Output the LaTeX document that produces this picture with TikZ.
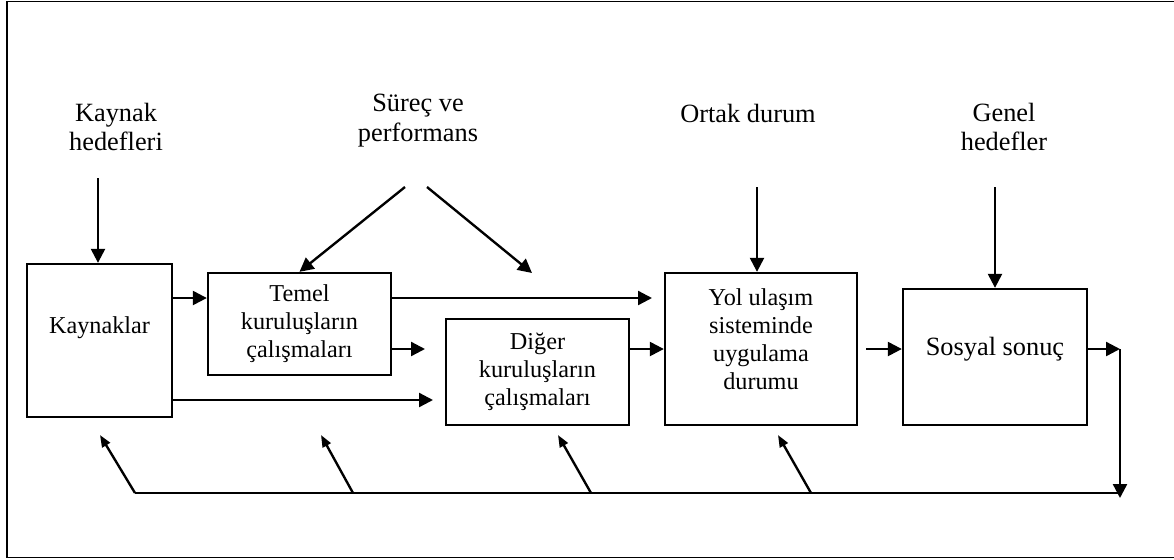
\documentclass[tikz,border=0pt]{standalone}
\usepackage{fontspec}
\setmainfont{Liberation Serif}
\usetikzlibrary{arrows.meta, positioning}

\begin{document}
\begin{tikzpicture}[x=0.02cm, y=-0.02cm, line width=1.35pt,
  box/.style     = {draw, rectangle, inner sep=0pt},
  boxtext/.style = {align=center, font=\fontsize{13.8}{15.9}\selectfont},
  bigtext/.style = {align=center, font=\fontsize{15}{17}\selectfont},
  arr/.style     = {-{Triangle[length=0.28cm, width=0.28cm]}},
  fbarr/.style   = {-{Triangle[length=0.24cm, width=0.18cm]}}
]

\useasboundingbox (0,0) rectangle (1174,559);

% frame
\draw [line width=1pt] (1180,1.5) -- (7,1.5) -- (7,557.5) -- (1180,557.5);

% boxes
\node [box, minimum width=2.90cm, minimum height=3.06cm,
       label={[boxtext, yshift=0.25cm]center:Kaynaklar}]                        (kay)    at (99.5,340.5) {};
\node [box, boxtext, minimum width=3.66cm, minimum height=2.04cm]                (temel)  at (299.5,324)  {Temel\\kuruluşların\\çalışmaları};
\node [box, boxtext, minimum width=3.66cm, minimum height=2.12cm]                (diger)  at (537.5,372)  {Diğer\\kuruluşların\\çalışmaları};
\node [box, minimum width=3.84cm, minimum height=3.04cm,
       label={[boxtext, yshift=0.2cm]center:{Yol ulaşım\\sisteminde\\uygulama\\durumu}}] (yol) at (761,349) {};
\node [box, minimum width=3.68cm, minimum height=2.72cm,
       label={[bigtext, yshift=0.16cm]center:Sosyal sonuç}]                      (sosyal) at (995,357)    {};

% inputs on top
\node [bigtext] (kh) at (116,127)  {Kaynak\\hedefleri};
\node [bigtext] (sp) at (418,121)  {Süreç ve\\performans};
\node [bigtext] (od) at (748,113)  {Ortak durum};
\node [bigtext] (gh) at (1004,127) {Genel\\hedefler};

% rows and free ends
\coordinate (r1)  at (0,298);
\coordinate (r2)  at (0,349);
\coordinate (r3)  at (0,400);
\coordinate (khs) at (98,178);
\coordinate (spl) at (405,187);
\coordinate (spr) at (427,187);
\coordinate (spe) at (532,273);
\coordinate (ods) at (757,187);
\coordinate (ghs) at (995,187);
\coordinate (tl)  at (652,298);
\coordinate (te)  at (425,349);
\coordinate (ke)  at (433,400);
\coordinate (ys)  at (866,349);
\coordinate (fbr) at (1120,349);
\coordinate (fbd) at (1120,498);
\coordinate (fb0) at (135,493);

\draw [arr] (khs) -- (khs |- kay.north);
\draw [arr] (spl) -- (temel.north);
\draw [arr] (spr) -- (spe);
\draw [arr] (ods) -- (ods |- yol.north);
\draw [arr] (ghs) -- (sosyal.north);

\draw [arr] (kay.east |- r1)    -- (temel.west |- r1);
\draw [arr] (temel.east |- r1)  -- (tl);
\draw [arr] (temel.east |- r2)  -- (te);
\draw [arr] (kay.east |- r3)    -- (ke);
\draw [arr] (diger.east |- r2)  -- (yol.west |- r2);
\draw [arr] (ys)                -- (sosyal.west |- r2);
\draw [arr] (sosyal.east |- r2) -- (fbr);
\draw [arr] (fbr) -- (fbd);

% feedback
\draw (fb0) -- (fbd |- fb0);
\foreach \n/\bx/\tx in {1/135/100, 2/353/321, 3/591/558, 4/811/778} {
  \coordinate (fb\n) at (\bx,493);
  \coordinate (up\n) at (\tx,435);
  \draw [fbarr] (fb\n) -- (up\n);
}

\end{tikzpicture}
\end{document}
